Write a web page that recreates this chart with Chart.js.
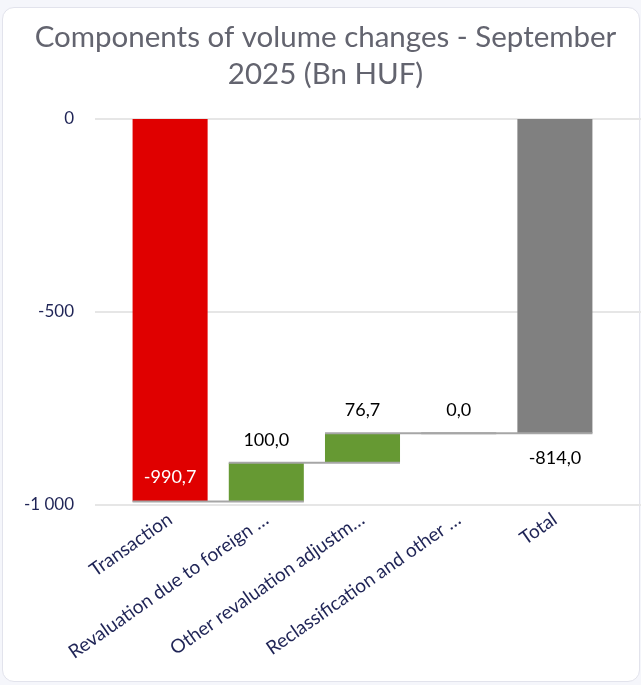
<!DOCTYPE html>
<html>
<head>
<meta charset="utf-8">
<script src="https://cdn.jsdelivr.net/npm/chart.js@4.4.1/dist/chart.umd.min.js"></script>
<style>
  html, body { margin: 0; padding: 0; background: #f5f6fb; }
  body { width: 641px; height: 685px; position: relative; overflow: hidden; }
  .card {
    position: absolute; left: 2px; top: 7px; width: 636px; height: 673px;
    background: #fff; border: 1px solid #e2e3ec; border-radius: 12px;
  }
  #wrap { position: absolute; left: 0; top: 0; width: 641px; height: 685px; }
</style>
</head>
<body>
<div class="card"></div>
<div id="wrap"><canvas id="chart"></canvas></div>
<script>
// Componentes del cambio de volumen
const categories = [
  'Transaction',
  'Revaluation due to foreign …',
  'Other revaluation adjustm…',
  'Reclassification and other …',
  'Total'
];
const changes = [-990.7, 100.0, 76.7, 0.0];
const total = -814.0;
const yTicks = [0, -500, -1000];
const barColors = ['#e00000', '#669933', '#669933', '#669933', '#808080'];

// rangos flotantes a partir de la suma acumulada
const ranges = [];
let run = 0;
changes.forEach(v => {
  ranges.push([run, run + v]);
  run += v;
});
ranges.push([0, total]);
const labelValues = changes.concat([total]);

const fmt = v => {
  const s = Math.abs(v).toFixed(1).replace('.', ',');
  return (v < 0 ? '-' : '') + s;
};
const fmtTick = v => {
  const s = String(Math.abs(v)).replace(/\B(?=(\d{3})+(?!\d))/g, ' ');
  return (v < 0 ? '-' : '') + s;
};

// lineas de grilla y conectores
const extras = {
  id: 'extras',
  beforeDatasetsDraw(chart) {
    const { ctx, scales: { y } } = chart;
    ctx.save();
    ctx.strokeStyle = '#e6e6e6';
    ctx.lineWidth = 2;
    yTicks.forEach(t => {
      const py = Math.round(y.getPixelForValue(t));
      ctx.beginPath();
      ctx.moveTo(95, py);
      ctx.lineTo(641, py);
      ctx.stroke();
    });
    ctx.restore();
  },
  afterDatasetsDraw(chart) {
    const { ctx, scales: { y } } = chart;
    const bars = chart.getDatasetMeta(0).data;
    ctx.save();
    ctx.strokeStyle = '#a6a6a6';
    ctx.lineWidth = 2;
    for (let i = 0; i < bars.length - 1; i++) {
      const py = y.getPixelForValue(ranges[i][1]);
      const x0 = bars[i].x - bars[i].width / 2;
      const x1 = bars[i + 1].x + bars[i + 1].width / 2;
      ctx.beginPath();
      ctx.moveTo(x0, py);
      ctx.lineTo(x1, py);
      ctx.stroke();
    }
    // etiquetas de datos
    ctx.font = '18px Lato, sans-serif';
    ctx.textAlign = 'center';
    ctx.textBaseline = 'middle';
    bars.forEach((b, i) => {
      const v = labelValues[i];
      const top = y.getPixelForValue(Math.max(ranges[i][0], ranges[i][1]));
      const bottom = y.getPixelForValue(Math.min(ranges[i][0], ranges[i][1]));
      if (i === 0) {
        ctx.fillStyle = '#ffffff';
        ctx.fillText(fmt(v), b.x, bottom - 24);
      } else if (i === bars.length - 1) {
        ctx.fillStyle = '#000000';
        ctx.fillText(fmt(v), b.x, bottom + 25);
      } else {
        ctx.fillStyle = '#000000';
        ctx.fillText(fmt(v), b.x, top - 23);
      }
    });
    ctx.restore();
  }
};

new Chart(document.getElementById('chart'), {
  type: 'bar',
  data: {
    labels: categories,
    datasets: [{
      data: ranges,
      backgroundColor: barColors,
      borderWidth: 0,
      barPercentage: 0.78,
      categoryPercentage: 1
    }]
  },
  options: {
    responsive: true,
    maintainAspectRatio: false,
    animation: false,
    layout: { padding: { left: 10, right: 0, top: 0, bottom: 0 } },
    plugins: {
      legend: { display: false },
      tooltip: { enabled: false },
      title: {
        display: true,
        text: ['Components of volume changes - September', '2025 (Bn HUF)'],
        color: '#63646f',
        font: { family: 'Lato, sans-serif', size: 29.5, weight: 'normal', lineHeight: 1.254 },
        padding: { top: 19, bottom: 26 }
      }
    },
    scales: {
      x: {
        grid: { display: false, drawTicks: false },
        border: { display: false },
        ticks: {
          color: '#1f2456',
          font: { family: 'Lato, sans-serif', size: 19 },
          minRotation: 35,
          maxRotation: 35,
          autoSkip: false,
          padding: 3
        },
        afterFit: scale => { scale.height = 180; }
      },
      y: {
        min: -1000,
        max: 0,
        grid: { display: false, drawTicks: false },
        border: { display: false },
        afterBuildTicks: scale => { scale.ticks = yTicks.map(v => ({ value: v })); },
        ticks: {
          color: '#1f2456',
          font: { family: 'Lato, sans-serif', size: 17 },
          padding: 48,
          callback: v => fmtTick(v)
        },
        afterFit: scale => { scale.width = 112; }
      },
      // eje vacio a la derecha para dejar margen
      y2: {
        position: 'right',
        display: true,
        grid: { display: false, drawTicks: false },
        border: { display: false },
        ticks: { display: false },
        afterFit: scale => { scale.width = 38; }
      }
    }
  },
  plugins: [extras]
});
</script>
</body>
</html>
